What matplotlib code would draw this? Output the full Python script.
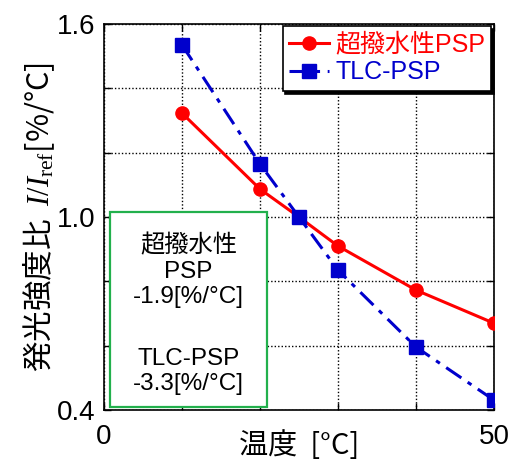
import matplotlib.pyplot as plt
from matplotlib.patches import Rectangle

plt.rcParams['font.family'] = ['Liberation Sans', 'Noto Sans CJK JP']
plt.rcParams['mathtext.fontset'] = 'custom'
plt.rcParams['mathtext.it'] = 'Liberation Serif:italic'
plt.rcParams['mathtext.rm'] = 'Liberation Serif'

# data
temp = [10, 20, 25, 30, 40, 50]
psp_super = [1.323, 1.087, 1.0, 0.910, 0.773, 0.670]
psp_tlc = [1.535, 1.165, 1.0, 0.835, 0.596, 0.431]

xticks = [0, 10, 20, 30, 40, 50]
xtick_labels = ['0', '', '', '', '', '50']
yticks = [0.4, 0.6, 0.8, 1.0, 1.2, 1.4, 1.6]
ytick_labels = ['0.4', '', '', '1.0', '', '', '1.6']

fig = plt.figure(figsize=(5.14, 4.66), dpi=100)
ax = fig.add_axes([0.2023, 0.120, 0.7587, 0.8285])

ax.plot(temp, psp_super, color='#ff0000', lw=2.2, marker='o', ms=9.5,
        label='超撥水性PSP', zorder=3)
ax.plot(temp, psp_tlc, color='#0000cc', lw=2.2, marker='s', ms=10,
        linestyle=(0, (6, 2.5, 1.5, 2.5)), label='TLC-PSP', zorder=4)

ax.set_xlim(0, 50)
ax.set_ylim(0.4, 1.6)
ax.set_xticks(xticks)
ax.set_xticklabels(xtick_labels)
ax.set_yticks(yticks)
ax.set_yticklabels(ytick_labels)
ax.tick_params(direction='in', top=True, right=True, length=5, width=1,
               labelsize=20)
ax.tick_params(axis='x', pad=10)
ax.tick_params(axis='y', pad=6)
ax.grid(True, linestyle=(0, (1, 1.5)), color='k', linewidth=1.0)
for s in ax.spines.values():
    s.set_linewidth(1.2)

ax.set_xlabel('温度  [°C]', fontsize=21, family=['Noto Sans CJK JP'], labelpad=-14)
ax.set_ylabel('発光強度比  $I/I_{\\mathrm{ref}}$[%/°C]', fontsize=22,
              family=['Noto Sans CJK JP'], labelpad=0)

leg = ax.legend(loc='upper right', fontsize=18, fancybox=False, framealpha=1,
                edgecolor='k', borderaxespad=0.1, handlelength=1.6,
                handletextpad=0.25, borderpad=0.25, labelspacing=0.15,
                shadow={'color': 'k', 'alpha': 1})
leg.get_frame().set_linewidth(1.2)
for txt, c in zip(leg.get_texts(), ['#ff0000', '#0000cc']):
    txt.set_color(c)

ax.add_patch(Rectangle((0.015, 0.008), 0.403, 0.505, transform=ax.transAxes,
                       facecolor='white', edgecolor='#22b04c', lw=1.6, zorder=5))
ax.text(0.2165, 0.36, '超撥水性\nPSP\n-1.9[%/°C]',
        transform=ax.transAxes, ha='center', va='center', fontsize=17.5,
        linespacing=1.2, zorder=6)
ax.text(0.2165, 0.10, 'TLC-PSP\n-3.3[%/°C]',
        transform=ax.transAxes, ha='center', va='center', fontsize=17.5,
        linespacing=1.2, zorder=6)

fig.savefig('out.png', dpi=100)
